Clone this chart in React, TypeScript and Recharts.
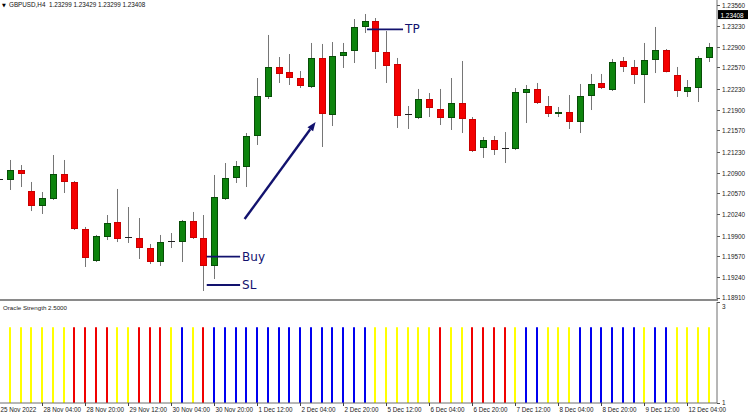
import React from 'react';
import { ComposedChart, Bar, XAxis, YAxis, ReferenceLine, Cell } from 'recharts';

// GBPUSD H4 candles, 25 Nov - 12 Dec 2022
const opens = [
  1.20782, 1.20782, 1.20941, 1.20608, 1.2037, 1.20481, 1.20878, 1.20751, 1.20005, 1.19497,
  1.19878, 1.20116, 1.19862, 1.19862, 1.19703, 1.19481, 1.19814, 1.19798, 1.20132, 1.19862,
  1.19418, 1.20481, 1.20814, 1.20989, 1.21481, 1.221, 1.22576, 1.22496, 1.22401, 1.22258,
  1.22719, 1.21814, 1.2275, 1.2283, 1.23211, 1.23306, 1.22814, 1.22623, 1.21814, 1.21766,
  1.22068, 1.21909, 1.21766, 1.22004, 1.2175, 1.2129, 1.21417, 1.21274, 1.21274, 1.22163,
  1.22227, 1.21957, 1.2183, 1.21862, 1.21703, 1.22115, 1.22322, 1.22211, 1.22671, 1.22576,
  1.22449, 1.22687, 1.22845, 1.22449, 1.22179, 1.22242, 1.22719,
];
const highs = [
  1.20862, 1.211, 1.2102, 1.20751, 1.20592, 1.21179, 1.211, 1.20767, 1.20037, 1.1991,
  1.20227, 1.2064, 1.20354, 1.20179, 1.19767, 1.1991, 1.19941, 1.20148, 1.20275, 1.20227,
  1.20862, 1.21052, 1.21084, 1.21528, 1.22401, 1.23084, 1.22734, 1.22782, 1.22512, 1.22957,
  1.22941, 1.22972, 1.22957, 1.23337, 1.23417, 1.23353, 1.23147, 1.22719, 1.21957, 1.22227,
  1.22163, 1.22227, 1.22401, 1.22671, 1.21782, 1.21465, 1.21481, 1.21544, 1.22242, 1.2229,
  1.22322, 1.22115, 1.21941, 1.22131, 1.22306, 1.22465, 1.22465, 1.22703, 1.22734, 1.22687,
  1.22957, 1.23211, 1.22861, 1.22576, 1.22369, 1.2275, 1.22957,
];
const lows = [
  1.20735, 1.20624, 1.20671, 1.2029, 1.20243, 1.20465, 1.20576, 1.19989, 1.19402, 1.19481,
  1.1983, 1.19798, 1.19783, 1.19529, 1.19449, 1.19418, 1.19703, 1.19481, 1.19846, 1.19021,
  1.19211, 1.20465, 1.20735, 1.20671, 1.21338, 1.22068, 1.22322, 1.2229, 1.22242, 1.22242,
  1.21306, 1.21639, 1.2256, 1.22639, 1.23115, 1.22544, 1.22322, 1.21608, 1.21592, 1.2175,
  1.21782, 1.21655, 1.21576, 1.21528, 1.21227, 1.21132, 1.21179, 1.21052, 1.21258, 1.21687,
  1.21989, 1.21782, 1.21782, 1.21592, 1.21528, 1.21893, 1.22227, 1.22195, 1.22496, 1.22306,
  1.22004, 1.2248, 1.2249, 1.221, 1.221, 1.2202, 1.22655,
];
const closes = [
  1.20798, 1.20941, 1.20878, 1.2037, 1.20497, 1.20878, 1.20751, 1.20005, 1.19545, 1.19894,
  1.201, 1.19846, 1.1987, 1.19703, 1.19481, 1.19798, 1.19822, 1.20132, 1.19862, 1.19418,
  1.20513, 1.20814, 1.21005, 1.21481, 1.22115, 1.22576, 1.22465, 1.22401, 1.22274, 1.22719,
  1.2183, 1.2275, 1.22814, 1.23211, 1.23306, 1.22814, 1.22592, 1.21798, 1.21822, 1.22068,
  1.21925, 1.21766, 1.22004, 1.2175, 1.21243, 1.21417, 1.21258, 1.2129, 1.22179, 1.22227,
  1.22004, 1.2183, 1.21862, 1.21703, 1.22115, 1.22306, 1.22242, 1.22655, 1.22576, 1.22449,
  1.22687, 1.22845, 1.22496, 1.22195, 1.22258, 1.22719, 1.22893,
];

// Oracle Strength state per bar: Y = yellow, R = red, B = blue
const strengthState = [
  'Y', 'Y', 'Y', 'Y', 'Y', 'Y', 'Y', 'R', 'R', 'R', 'R', 'Y', 'Y', 'R', 'R', 'R', 'Y', 'B', 'Y', 'R',
  'B', 'B', 'B', 'B', 'B', 'B', 'B', 'B', 'B', 'B', 'B', 'B', 'B', 'B', 'B', 'Y', 'Y', 'Y', 'Y', 'Y',
  'Y', 'R', 'Y', 'Y', 'R', 'R', 'R', 'R', 'Y', 'B', 'B', 'Y', 'Y', 'Y', 'B', 'B', 'B', 'B', 'B', 'B',
  'Y', 'B', 'B', 'Y', 'Y', 'Y', 'Y',
];
const strengthLevel = 2.5;

const timeLabels = [
  '25 Nov 2022', '28 Nov 04:00', '28 Nov 20:00', '29 Nov 12:00', '30 Nov 04:00', '30 Nov 20:00',
  '1 Dec 12:00', '2 Dec 04:00', '2 Dec 20:00', '5 Dec 12:00', '6 Dec 04:00', '6 Dec 20:00',
  '7 Dec 12:00', '8 Dec 04:00', '8 Dec 20:00', '9 Dec 12:00', '12 Dec 04:00',
];
const priceTicks = [
  1.1891, 1.1924, 1.1957, 1.199, 1.2024, 1.2057, 1.209, 1.2123, 1.2157, 1.219,
  1.2223, 1.2257, 1.229, 1.2323, 1.2356,
];
const lastPrice = 1.23408;
const header = 'GBPUSD,H4  1.23299 1.23429 1.23299 1.23408';

// trade marks drawn on the chart (bar index, price)
const buyLine = { from: 19.28, to: 22.38, price: 1.19565 };
const slLine = { from: 19.28, to: 22.38, price: 1.19116 };
const tpLine = { from: 34.18, to: 37.53, price: 1.23174 };
const arrow = { from: [22.8, 1.20163], to: [29.4, 1.21703] };

const stateColors: Record<string, string> = { Y: '#ffff00', R: '#f00000', B: '#0000f0' };
const navy = '#12126e';
const font = '"Liberation Sans", Arial, sans-serif';

const candles = opens.map((o, i) => ({
  idx: i,
  open: o,
  high: highs[i],
  low: lows[i],
  close: closes[i],
  range: [lows[i], highs[i]],
}));
const strength = strengthState.map((s, i) => ({ idx: i, v: strengthLevel, s }));

const xPad = { left: 0, right: 2.35 };

const Candle = (p: any) => {
  const { x, y, width, height, payload } = p;
  const { open, close, high, low } = payload;
  const top0 = Math.min(y, y + height);
  const h = Math.abs(height);
  const k = h / (high - low);
  const yOf = (v: number) => top0 + (high - v) * k;
  const cx = Math.round(x + width / 2 - 0.5) + 0.5;
  const up = close >= open;
  const bt = Math.round(yOf(Math.max(open, close)));
  const bb = Math.round(yOf(Math.min(open, close)));
  return (
    <g>
      <line x1={cx} x2={cx} y1={top0} y2={top0 + h} stroke="#767676" strokeWidth={1} />
      {bb - bt < 2 ? (
        <line x1={cx - 3.5} x2={cx + 3.5} y1={bt + 0.5} y2={bt + 0.5} stroke="#202020" strokeWidth={1} />
      ) : (
        <rect
          x={cx - 3}
          y={bt + 0.5}
          width={6}
          height={bb - bt - 1}
          fill={up ? '#0d840d' : '#f40000'}
          stroke={up ? '#074d07' : '#c80000'}
          strokeWidth={1}
        />
      )}
    </g>
  );
};

const PriceTick = (p: any) => {
  const { x, y, payload } = p;
  const v = payload.value as number;
  if (v === lastPrice) {
    return (
      <g>
        <rect x={x + 1} y={y - 4.5} width={30} height={9} fill="#000" />
        <text x={x + 3.5} y={y + 0.5} fontSize={6.4} fill="#fff" fontFamily={font} dominantBaseline="central">
          {v.toFixed(5)}
        </text>
      </g>
    );
  }
  const ty = v === priceTicks[0] ? y - 0.5 : y + 0.5;
  return (
    <g>
      <line x1={x} x2={x + 3} y1={Math.round(y) + 0.5} y2={Math.round(y) + 0.5} stroke="#555" />
      <text x={x + 5} y={ty} fontSize={6.4} fill="#222" fontFamily={font} dominantBaseline="central">
        {v.toFixed(5)}
      </text>
    </g>
  );
};

const LevelTick = (p: any) => {
  const { x, y, payload } = p;
  const ty = payload.value === 3 ? y + 4 : y - 1;
  return (
    <g>
      <line x1={x} x2={x + 3} y1={Math.round(y) + 0.5} y2={Math.round(y) + 0.5} stroke="#555" />
      <text x={x + 5} y={ty} fontSize={6.4} fill="#222" fontFamily={font} dominantBaseline="central">
        {payload.value}
      </text>
    </g>
  );
};

const TimeTick = (p: any) => {
  const { x, y, payload } = p;
  const label = timeLabels[Math.round(payload.value / 4)];
  const tx = Math.round(x - 0.5) + 0.5;
  return (
    <g>
      <line x1={tx} x2={tx} y1={y} y2={y + 3} stroke="#444" />
      <text x={tx + 1} y={y + 6.5} fontSize={6.3} fill="#222" fontFamily={font} dominantBaseline="central">
        {label}
      </text>
    </g>
  );
};

const MarkLine = (label: string) => (p: any) => {
  const { x1, y1, x2, y2 } = p;
  return (
    <g>
      <line x1={x1} y1={y1} x2={x2} y2={y2} stroke={navy} strokeWidth={1.8} />
      <text x={x2 + 2} y={y2} fontSize={12} fill={navy} fontFamily="DejaVu Sans" dominantBaseline="central">
        {label}
      </text>
    </g>
  );
};

const ArrowShape = (p: any) => {
  const { x1, y1, x2, y2 } = p;
  const a = Math.atan2(y2 - y1, x2 - x1);
  const len = 9;
  const half = 3.5;
  const bx = x2 - len * Math.cos(a);
  const by = y2 - len * Math.sin(a);
  const pts = [
    [x2, y2],
    [bx + half * Math.sin(a), by - half * Math.cos(a)],
    [bx - half * Math.sin(a), by + half * Math.cos(a)],
  ]
    .map((q) => q.join(','))
    .join(' ');
  return (
    <g>
      <line x1={x1} y1={y1} x2={bx} y2={by} stroke={navy} strokeWidth={2.4} />
      <polygon points={pts} fill={navy} />
    </g>
  );
};

export default function App() {
  return (
    <div
      style={{
        position: 'absolute',
        left: 0,
        top: 0,
        width: 749,
        height: 414,
        overflow: 'hidden',
        background: '#fff',
        fontFamily: font,
      }}
    >
      <div style={{ position: 'absolute', left: -6, top: 300 }}>
        <ComposedChart
          width={755}
          height={114}
          data={strength}
          margin={{ top: 2, right: 0, bottom: 0, left: 0 }}
          barCategoryGap={0}
          barGap={0}
        >
          <XAxis
            dataKey="idx"
            type="category"
            padding={xPad}
            height={11}
            interval={3}
            tick={TimeTick}
            tickLine={false}
            tickSize={0}
            tickMargin={0}
            axisLine={{ stroke: '#6e6e6e' }}
          />
          <YAxis
            orientation="right"
            width={32}
            domain={[1, 3]}
            ticks={[1, 3]}
            interval={0}
            tick={LevelTick}
            tickLine={false}
            tickSize={0}
            tickMargin={0}
            axisLine={{ stroke: '#6e6e6e' }}
          />
          <Bar
            dataKey="v"
            barSize={2}
            isAnimationActive={false}
            shape={(p: any) => <rect x={Math.round(p.x)} y={p.y} width={2} height={p.height} fill={p.fill} />}
          >
            {strength.map((d) => (
              <Cell key={d.idx} fill={stateColors[d.s]} />
            ))}
          </Bar>
        </ComposedChart>
      </div>
      <div style={{ position: 'absolute', left: -6, top: 0 }}>
        <ComposedChart
          width={755}
          height={308}
          data={candles}
          margin={{ top: 0, right: 0, bottom: 9, left: 0 }}
          barCategoryGap={0}
          barGap={0}
        >
          <XAxis dataKey="idx" type="category" hide padding={xPad} />
          <XAxis xAxisId="n" dataKey="idx" type="number" domain={[-0.5, 66.5]} allowDataOverflow hide padding={xPad} />
          <YAxis
            orientation="right"
            width={32}
            domain={[1.18894, 1.23639]}
            allowDataOverflow
            ticks={[...priceTicks, lastPrice]}
            interval={0}
            tick={PriceTick}
            tickLine={false}
            tickSize={0}
            tickMargin={0}
            axisLine={{ stroke: '#6e6e6e' }}
          />
          <Bar dataKey="range" shape={Candle} isAnimationActive={false} />
          <ReferenceLine
            xAxisId="n"
            segment={[{ x: buyLine.from, y: buyLine.price }, { x: buyLine.to, y: buyLine.price }]}
            shape={MarkLine('Buy')}
          />
          <ReferenceLine
            xAxisId="n"
            segment={[{ x: slLine.from, y: slLine.price }, { x: slLine.to, y: slLine.price }]}
            shape={MarkLine('SL')}
          />
          <ReferenceLine
            xAxisId="n"
            segment={[{ x: tpLine.from, y: tpLine.price }, { x: tpLine.to, y: tpLine.price }]}
            shape={MarkLine('TP')}
          />
          <ReferenceLine
            xAxisId="n"
            segment={[
              { x: arrow.from[0], y: arrow.from[1] },
              { x: arrow.to[0], y: arrow.to[1] },
            ]}
            shape={ArrowShape}
          />
        </ComposedChart>
      </div>
      <svg
        width={749}
        height={414}
        style={{ position: 'absolute', left: 0, top: 0, pointerEvents: 'none' }}
      >
        <text x={2} y={4.5} fontSize={5} fill="#000" fontFamily="DejaVu Sans" dominantBaseline="central">
          ▼
        </text>
        <text x={9} y={4.5} fontSize={6.3} fill="#111" fontFamily={font} dominantBaseline="central" xmlSpace="preserve">
          {header}
        </text>
        <rect x={0} y={299} width={718} height={2} fill="#8a8a8a" />
        <text x={3} y={307} fontSize={6.2} fill="#222" fontFamily={font} dominantBaseline="central">
          Oracle Strength 2.5000
        </text>
      </svg>
    </div>
  );
}
